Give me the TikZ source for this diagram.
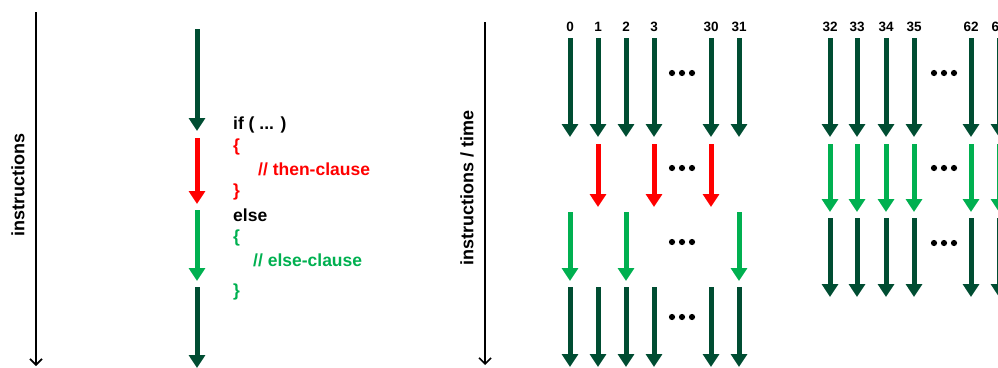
\documentclass[tikz,border=0pt]{standalone}
\usepackage{fontspec}
\setmainfont{Liberation Sans}
\usetikzlibrary{arrows.meta}
\definecolor{darkgrn}{HTML}{004D32}
\definecolor{brightred}{HTML}{FF0000}
\definecolor{lightgrn}{HTML}{00B050}
\tikzset{
  flow/.style={line width=5pt, -{Triangle[width=16pt,length=13pt]}},
  axis/.style={line width=1.8pt, -{Straight Barb[length=6pt,width=12pt,line width=1.6pt]}},
  code/.style={anchor=west, inner sep=0pt, font=\fontsize{17.5}{20}\selectfont\bfseries},
  idx/.style={inner sep=0pt, font=\fontsize{13.5}{15}\selectfont\bfseries},
  axlabel/.style={rotate=90, inner sep=0pt, font=\fontsize{18}{20}\selectfont\bfseries},
  tripledot/.pic={\fill (-10,0) circle[radius=3.1pt] (0,0) circle[radius=3.1pt] (10,0) circle[radius=3.1pt];}
}
\begin{document}
\begin{tikzpicture}[x=1pt,y=-1pt]
\useasboundingbox (0,0) rectangle (998,367);
\clip (0,0) rectangle (998,367);

% ---- sequential view ----
\coordinate (axAtop) at (36,12);
\coordinate (axAbot) at (36,366);
\draw[axis] (axAtop) -- (axAbot);
\node[axlabel] (labA) at (18,185) {instructions};

\coordinate (s1a) at (197,29);  \coordinate (s1b) at (197,131);
\coordinate (s2a) at (197,138); \coordinate (s2b) at (197,204);
\coordinate (s3a) at (197,210); \coordinate (s3b) at (197,281);
\coordinate (s4a) at (197,287); \coordinate (s4b) at (197,368);
\draw[flow, darkgrn]   (s1a) -- (s1b);
\draw[flow, brightred] (s2a) -- (s2b);
\draw[flow, lightgrn]  (s3a) -- (s3b);
\draw[flow, darkgrn]   (s4a) -- (s4b);

\node[code] (c1) at (233,125) {if ( ... )};
\node[code, text=brightred] (c2) at (233,147) {\{};
\node[code, text=brightred] (c3) at (258,169) {// then-clause};
\node[code, text=brightred] (c4) at (233,192) {\}};
\node[code] (c5) at (233,215) {else};
\node[code, text=lightgrn] (c6) at (233,238) {\{};
\node[code, text=lightgrn] (c7) at (253,260) {// else-clause};
\node[code, text=lightgrn] (c8) at (233,292) {\}};

% ---- parallel view ----
\coordinate (axBtop) at (485,22);
\coordinate (axBbot) at (485,365);
\draw[axis] (axBtop) -- (axBbot);
\node[axlabel] (labB) at (467,188) {instructions / time};

% first group of 32 threads
\foreach \lab/\x [count=\i] in {0/570,1/598,2/626,3/654,30/711,31/739}{
  \node[idx] (na\i) at (\x,27) {\lab};
  \coordinate (ra\i) at (\x,38);  \coordinate (rb\i) at (\x,137);
  \coordinate (rg\i) at (\x,287); \coordinate (rh\i) at (\x,367);
  \draw[flow, darkgrn] (ra\i) -- (rb\i);
  \draw[flow, darkgrn] (rg\i) -- (rh\i);
}
\foreach \x [count=\i] in {598,654,711}{
  \coordinate (rc\i) at (\x,144); \coordinate (rd\i) at (\x,207);
  \draw[flow, brightred] (rc\i) -- (rd\i);
}
\foreach \x [count=\i] in {570,626,739}{
  \coordinate (re\i) at (\x,212); \coordinate (rf\i) at (\x,281);
  \draw[flow, lightgrn] (re\i) -- (rf\i);
}
\pic at (682,73) {tripledot};
\pic at (682,168) {tripledot};
\pic at (682,242) {tripledot};
\pic at (682,317) {tripledot};

% second group of 32 threads
\foreach \lab/\x [count=\i] in {32/830,33/857,34/886,35/914,62/971,63/999}{
  \node[idx] (nb\i) at (\x,27) {\lab};
  \coordinate (qa\i) at (\x,38);  \coordinate (qb\i) at (\x,137);
  \coordinate (qc\i) at (\x,144); \coordinate (qd\i) at (\x,212);
  \coordinate (qe\i) at (\x,218); \coordinate (qf\i) at (\x,297);
  \draw[flow, darkgrn]  (qa\i) -- (qb\i);
  \draw[flow, lightgrn] (qc\i) -- (qd\i);
  \draw[flow, darkgrn]  (qe\i) -- (qf\i);
}
\pic at (944,73) {tripledot};
\pic at (944,168) {tripledot};
\pic at (944,243) {tripledot};
\end{tikzpicture}
\end{document}
